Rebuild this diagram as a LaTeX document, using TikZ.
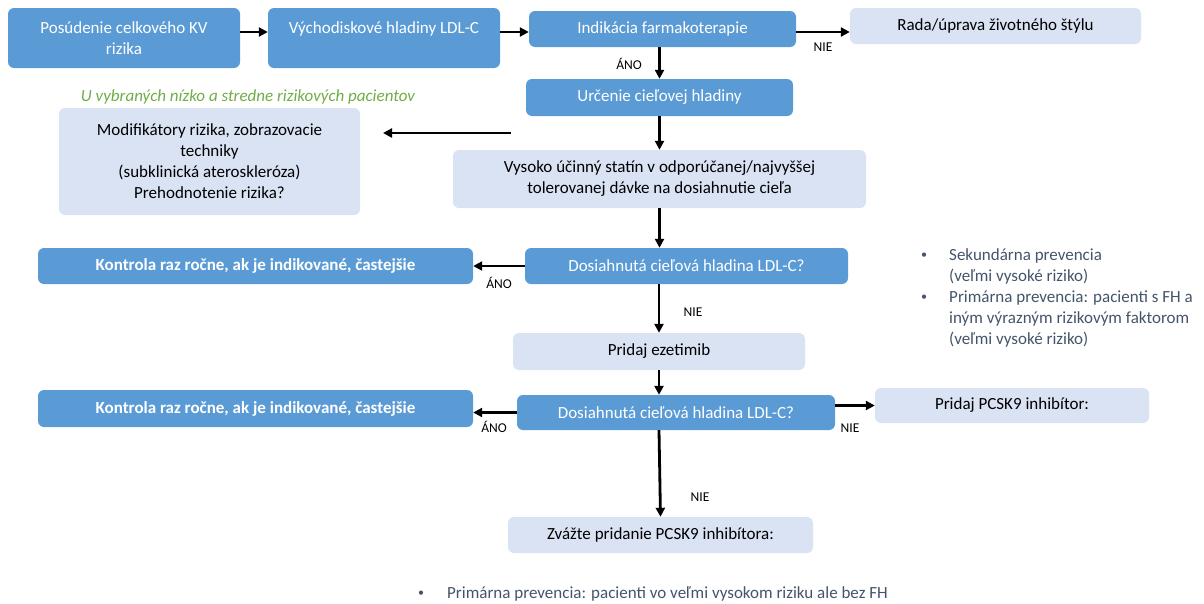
\documentclass[tikz,border=0pt]{standalone}
\usepackage{fontspec}
\setmainfont{Carlito}
\usepackage{xcolor}
\usetikzlibrary{arrows.meta}
\definecolor{darkbox}{HTML}{5B9BD5}
\definecolor{lightbox}{HTML}{DAE3F3}
\definecolor{notegreen}{HTML}{70AD47}
\definecolor{listgray}{HTML}{44546A}

\begin{document}
\begin{tikzpicture}[x=1pt, y=-1pt,
                    boxbase/.style={rounded corners=6pt, inner sep=2pt, align=center,
                                    font=\fontsize{17}{21}\selectfont},
                    dark/.style={boxbase, fill=darkbox, text=white},
                    light/.style={boxbase, fill=lightbox, text=black},
                    size/.style 2 args={minimum width=#1pt, minimum height=#2pt},
                    arr/.style={line width=2.8pt, -{Triangle[length=9pt,width=9pt]}},
                    tag/.style={font=\fontsize{13.5}{16}\selectfont, inner sep=0pt},
                    listtext/.style={font=\fontsize{17}{21}\selectfont, text=listgray,
                                     align=left, inner sep=0pt, anchor=west}]
  \useasboundingbox (0,0) rectangle (1204,603);
  \node[dark, size={232}{60}] (risk) at (124,38) {Posúdenie celkového KV\\rizika};
  \node[dark, size={232}{60}] (ldl) at (384,38) {Východiskové hladiny LDL-C\\~};
  \node[dark, size={267}{36}] (indic) at (662.5,29) {Indikácia farmakoterapie};
  \node[light, size={291}{36}] (lifestyle) at (995.5,26) {Rada/úprava životného štýlu};
  \node[dark, size={267}{37}] (target) at (659.5,97.5) {Určenie cieľovej hladiny};
  \node[font=\fontsize{17}{21}\selectfont\itshape, text=notegreen] (noteSel) at (248,97)
    {U vybraných nízko a stredne rizikových pacientov};
  \node[light, size={301}{107}] (modif) at (209.5,161.5)
    {Modifikátory rizika, zobrazovacie\\techniky\\(subklinická ateroskleróza)\\Prehodnotenie rizika?};
  \node[light, size={413}{58}] (statin) at (659.5,179)
    {Vysoko účinný statín v odporúčanej/najvyššej\\tolerovanej dávke na dosiahnutie cieľa};
  \node[dark, size={323}{36}] (goalA) at (686.5,266) {Dosiahnutá cieľová hladina LDL-C?};
  \node[dark, size={435}{36}, font=\fontsize{17}{21}\selectfont\bfseries] (ctrlA) at (255.5,266)
    {Kontrola raz ročne, ak je indikované, častejšie};
  \node[light, size={292}{37}] (ezet) at (659,351.5) {Pridaj ezetimib};
  \node[dark, size={318}{35}] (goalB) at (676,412.5) {Dosiahnutá cieľová hladina LDL-C?};
  \node[dark, size={435}{37}, font=\fontsize{17}{21}\selectfont\bfseries] (ctrlB) at (255.5,408.5)
    {Kontrola raz ročne, ak je indikované, častejšie};
  \node[light, size={274}{35}] (pcsk) at (1012,405.5) {Pridaj PCSK9 inhibítor:};
  \node[light, size={305}{36}] (consider) at (660.5,535) {Zvážte pridanie PCSK9 inhibítora:};

  \node[listtext] (prevA) at (949,266.5) {Sekundárna prevencia\\(veľmi vysoké riziko)};
  \node[listtext] (prevB) at (949,318.5)
    {Primárna prevencia: pacienti s FH a\\iným výrazným rizikovým faktorom\\(veľmi vysoké riziko)};
  \node[listtext] (prevC) at (447,594) {Primárna prevencia: pacienti vo veľmi vysokom riziku ale bez FH};
  \node[listtext, font=\fontsize{12}{14}\selectfont] (dotA) at (921,256) {\textbullet};
  \node[listtext, font=\fontsize{12}{14}\selectfont] (dotB) at (921,298) {\textbullet};
  \node[listtext, font=\fontsize{12}{14}\selectfont] (dotC) at (418,594) {\textbullet};

  \node[tag] (noLife) at (823,47) {NIE};
  \node[tag] (yesTarget) at (629,64) {ÁNO};
  \node[tag] (yesCtrlA) at (499,283) {ÁNO};
  \node[tag] (noEzet) at (693,312) {NIE};
  \node[tag] (yesCtrlB) at (494,427) {ÁNO};
  \node[tag] (noPcsk) at (850,428) {NIE};
  \node[tag] (noConsider) at (700,497) {NIE};

  \coordinate (fromStatin) at (511,133);
  \coordinate (toModif) at (383,133);

  \draw[arr] ([yshift=6pt]risk.east) -- ([yshift=6pt]ldl.west);
  \draw[arr] ([yshift=6pt]ldl.east) -- ([yshift=-3pt]indic.west);
  \draw[arr] ([yshift=-3pt]indic.east) -- ([yshift=-6pt]lifestyle.west);
  \draw[arr] (indic.south -| target.north) -- (target.north);
  \draw[arr] (target) -- (statin);
  \draw[arr] (fromStatin) -- (toModif);
  \draw[arr] (statin.south) -- (statin.south |- goalA.north);
  \draw[arr] (goalA) -- (ctrlA);
  \draw[arr] (ezet.north |- goalA.south) -- (ezet.north);
  \draw[arr] (ezet.south) -- (ezet.south |- goalB.north);
  \draw[arr] (goalB.west) -- (goalB.west -| ctrlB.east);
  \draw[arr] (pcsk.west -| goalB.east) -- (pcsk.west);
  \draw[arr] (ezet.south |- goalB.south) -- (consider.north);
\end{tikzpicture}
\end{document}
